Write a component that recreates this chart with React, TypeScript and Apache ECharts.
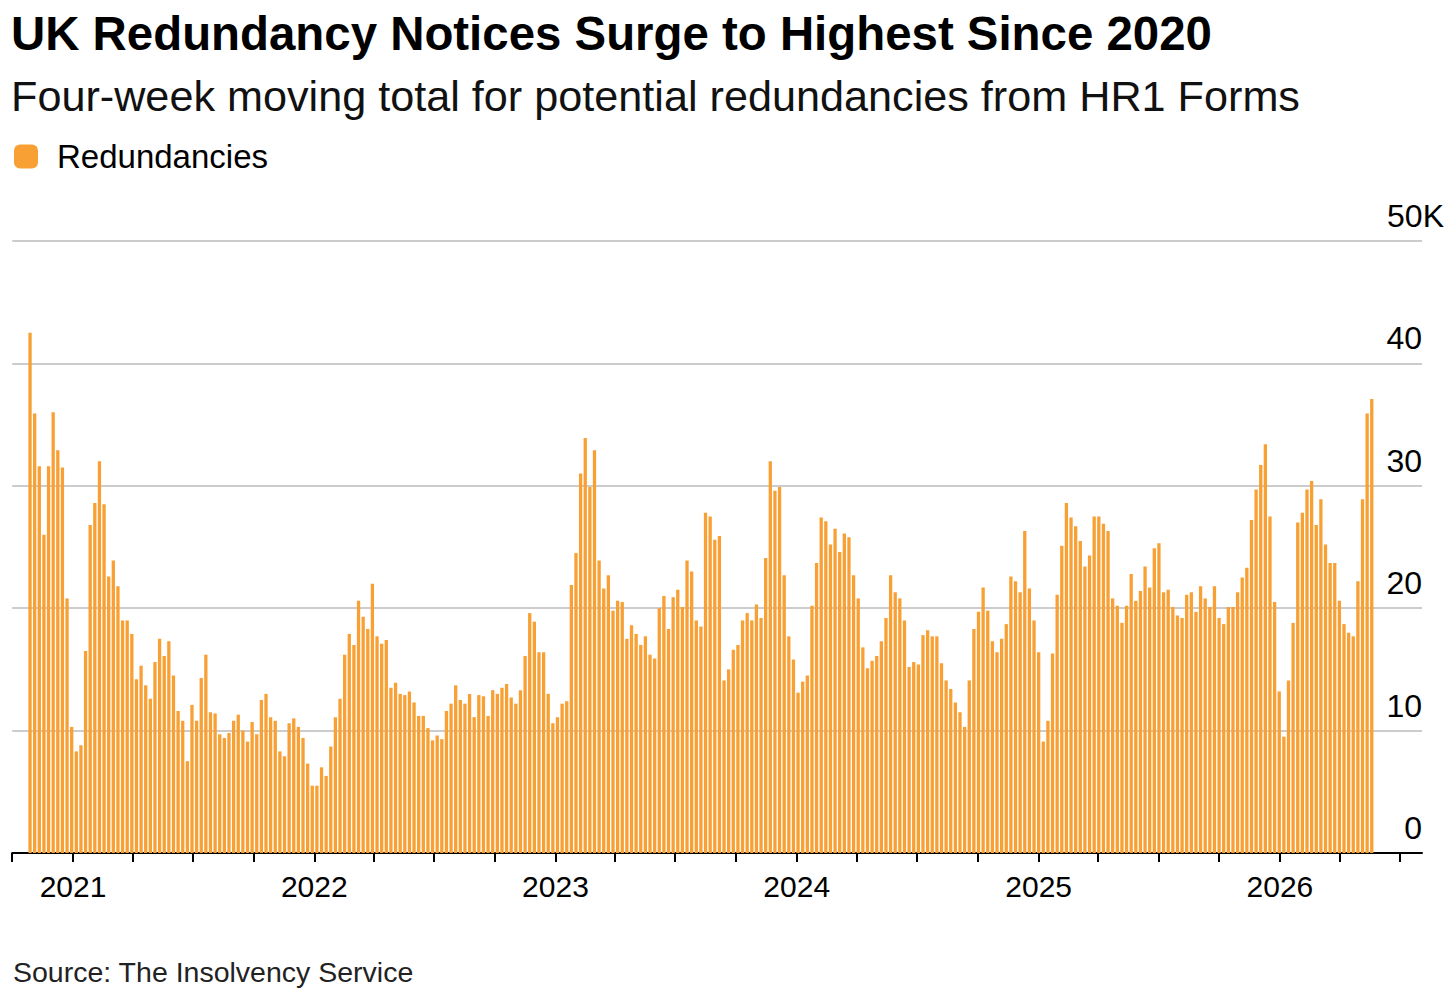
import React, { useEffect, useRef } from 'react';
import * as echarts from 'echarts';

const TITLE = 'UK Redundancy Notices Surge to Highest Since 2020';
const SUBTITLE = 'Four-week moving total for potential redundancies from HR1 Forms';
const SOURCE = 'Source: The Insolvency Service';
const SERIES_NAME = 'Redundancies';

// first weekly observation (UTC) – each value below is one week later
const FIRST_WEEK = [2020, 9, 28];

// Four-week moving totals, thousands
const v2020 = [42.5, 35.9, 31.6, 26.0, 31.6, 36.0, 32.9, 31.5, 20.8, 10.3];
const v2021 = [
  8.3, 8.8, 16.5, 26.8, 28.6, 32.0, 28.5, 22.6, 23.9, 21.8, 19.0, 19.0, 17.9,
  14.2, 15.3, 13.7, 12.6, 15.6, 17.5, 16.1, 17.3, 14.5, 11.6, 10.8, 7.5, 12.1,
  10.8, 14.3, 16.2, 11.5, 11.4, 9.7, 9.4, 9.8, 10.8, 11.3, 10.0, 9.1, 10.7,
  9.7, 12.5, 13.0, 11.1, 10.8, 8.3, 7.9, 10.6, 11.0, 10.3, 9.4, 7.3, 5.5,
];
const v2022 = [
  5.5, 7.0, 6.3, 8.7, 11.1, 12.6, 16.2, 17.9, 17.0, 20.6, 19.3, 18.3, 22.0,
  17.7, 17.1, 17.4, 13.5, 13.9, 13.0, 12.9, 13.2, 12.3, 11.2, 11.2, 10.2, 9.2,
  9.6, 9.3, 11.6, 12.2, 13.7, 12.5, 12.2, 13.0, 11.1, 12.9, 12.8, 11.2, 13.3,
  13.0, 13.5, 13.8, 12.7, 12.2, 13.3, 16.1, 19.6, 18.9, 16.4, 16.4, 13.0, 10.6,
];
const v2023 = [
  11.1, 12.2, 12.4, 21.9, 24.5, 31.0, 33.9, 29.9, 32.9, 23.9, 21.6, 22.7, 19.8,
  20.6, 20.5, 17.5, 18.6, 17.9, 17.0, 17.7, 16.2, 15.9, 20.0, 21.0, 18.3, 20.9,
  21.5, 20.1, 23.9, 23.0, 19.0, 18.5, 27.8, 27.5, 25.6, 25.9, 14.1, 15.0, 16.6,
  17.0, 19.0, 19.6, 19.0, 20.3, 19.2, 24.1, 32.0, 29.6, 29.9, 22.7, 17.7, 15.8,
];
const v2024 = [
  13.1, 14.0, 14.5, 20.2, 23.7, 27.4, 27.1, 25.2, 26.5, 24.6, 26.1, 25.8, 22.7,
  20.8, 16.8, 15.1, 15.7, 16.1, 17.3, 19.2, 22.7, 21.3, 20.8, 19.0, 15.2, 15.6,
  15.4, 17.8, 18.2, 17.7, 17.7, 15.5, 14.1, 13.4, 12.3, 11.5, 10.3, 14.1, 18.3,
  19.7, 21.7, 19.8, 17.3, 16.4, 17.5, 18.7, 22.6, 22.2, 21.3, 26.3, 21.6, 19.0,
];
const v2025 = [
  16.4, 9.1, 10.8, 16.3, 21.1, 25.1, 28.6, 27.4, 26.7, 25.5, 23.4, 24.3, 27.5,
  27.5, 26.9, 26.3, 20.8, 20.2, 18.8, 20.2, 22.8, 20.6, 21.4, 23.4, 21.7, 24.9,
  25.3, 21.3, 21.5, 20.1, 19.4, 19.2, 21.1, 21.3, 19.7, 21.8, 20.8, 20.1, 21.8,
  19.2, 18.7, 20.1, 20.1, 21.3, 22.5, 23.3, 27.2, 29.7, 31.7, 33.4, 27.5, 20.5,
];
const v2026 = [
  13.2, 9.5, 14.1, 18.8, 27.0, 27.8, 29.7, 30.4, 26.8, 28.9, 25.2, 23.7, 23.7,
  20.6, 18.7, 18.0, 17.7, 22.2, 28.9, 35.9, 37.1,
];

const YEAR_LABELS = ['2021', '2022', '2023', '2024', '2025', '2026'];
const QUARTER_MONTHS = [0, 3, 6, 9];
const Y_TICKS = [0, 10, 20, 30, 40, 50];

const FONT = "'Liberation Sans', Arial, Helvetica, sans-serif";
const ORANGE = '#F8A033';

export default function App() {
  const ref = useRef<HTMLDivElement>(null);

  useEffect(() => {
    document.body.style.margin = '0';
    const values = [...v2020, ...v2021, ...v2022, ...v2023, ...v2024, ...v2025, ...v2026];
    const start = Date.UTC(FIRST_WEEK[0], FIRST_WEEK[1], FIRST_WEEK[2]);
    const week = 7 * 86400000;
    const data = values.map((v, i) => [start + i * week, v]);

    const yearTicks = YEAR_LABELS.map((y) => Date.UTC(Number(y), 0, 1));
    const quarterTicks: number[] = [Date.UTC(2020, 9, 1)];
    YEAR_LABELS.forEach((y) => {
      QUARTER_MONTHS.forEach((m) => quarterTicks.push(Date.UTC(Number(y), m, 1)));
    });

    const chart = echarts.init(ref.current!, null, { renderer: 'svg' });
    chart.setOption({
      animation: false,
      backgroundColor: '#ffffff',
      textStyle: { fontFamily: FONT },
      graphic: [
        {
          type: 'text',
          x: 11,
          y: 33,
          style: {
            text: TITLE,
            fontSize: 47.4,
            fontWeight: 'bold',
            fontFamily: FONT,
            fill: '#000000',
            verticalAlign: 'middle',
          },
        },
        {
          type: 'text',
          x: 11,
          y: 96,
          style: {
            text: SUBTITLE,
            fontSize: 43.2,
            fontFamily: FONT,
            fill: '#111111',
            verticalAlign: 'middle',
          },
        },
        {
          type: 'text',
          x: 13,
          y: 972,
          style: {
            text: SOURCE,
            fontSize: 28.5,
            fontFamily: FONT,
            fill: '#222222',
            verticalAlign: 'middle',
          },
        },
      ],
      legend: {
        data: [SERIES_NAME],
        left: 14,
        top: 140,
        padding: 0,
        icon: 'roundRect',
        itemWidth: 24,
        itemHeight: 24,
        textStyle: { fontSize: 33, color: '#000', fontFamily: FONT, padding: [0, 0, 0, 14] },
      },
      grid: { left: 12.2, right: 34, top: 241, bottom: 148, containLabel: false },
      xAxis: {
        type: 'value',
        min: Date.UTC(2020, 9, 1),
        max: Date.UTC(2026, 7, 4),
        axisLine: { show: true, lineStyle: { color: '#000', width: 2 } },
        axisTick: {
          show: true,
          length: 9,
          lineStyle: { color: '#000', width: 2 },
          customValues: quarterTicks,
        },
        axisLabel: {
          customValues: yearTicks,
          formatter: (v: number) => String(new Date(v).getUTCFullYear()),
          fontSize: 30,
          color: '#000',
          fontFamily: FONT,
          margin: 18,
        },
        splitLine: { show: false },
      },
      yAxis: {
        type: 'value',
        position: 'right',
        min: Y_TICKS[0],
        max: Y_TICKS[Y_TICKS.length - 1],
        interval: 10,
        axisLine: { show: false },
        axisTick: { show: false },
        splitLine: { lineStyle: { color: '#cccccc', width: 2 } },
        axisLabel: {
          margin: 0,
          align: 'right',
          verticalAlign: 'bottom',
          padding: [0, 0, 9, 0],
          fontSize: 32,
          color: '#000',
          fontFamily: FONT,
          formatter: (v: number) => (v === Y_TICKS[Y_TICKS.length - 1] ? '{top|' + v + 'K}' : String(v)),
          rich: {
            top: { fontSize: 32, color: '#000', fontFamily: FONT, padding: [0, -22, 0, 0] },
          },
        },
      },
      series: [
        {
          name: SERIES_NAME,
          type: 'bar',
          data,
          barWidth: 3.3,
          itemStyle: { color: ORANGE },
        },
      ],
    });
    return () => chart.dispose();
  }, []);

  return <div ref={ref} style={{ width: 1456, height: 1001 }} />;
}
